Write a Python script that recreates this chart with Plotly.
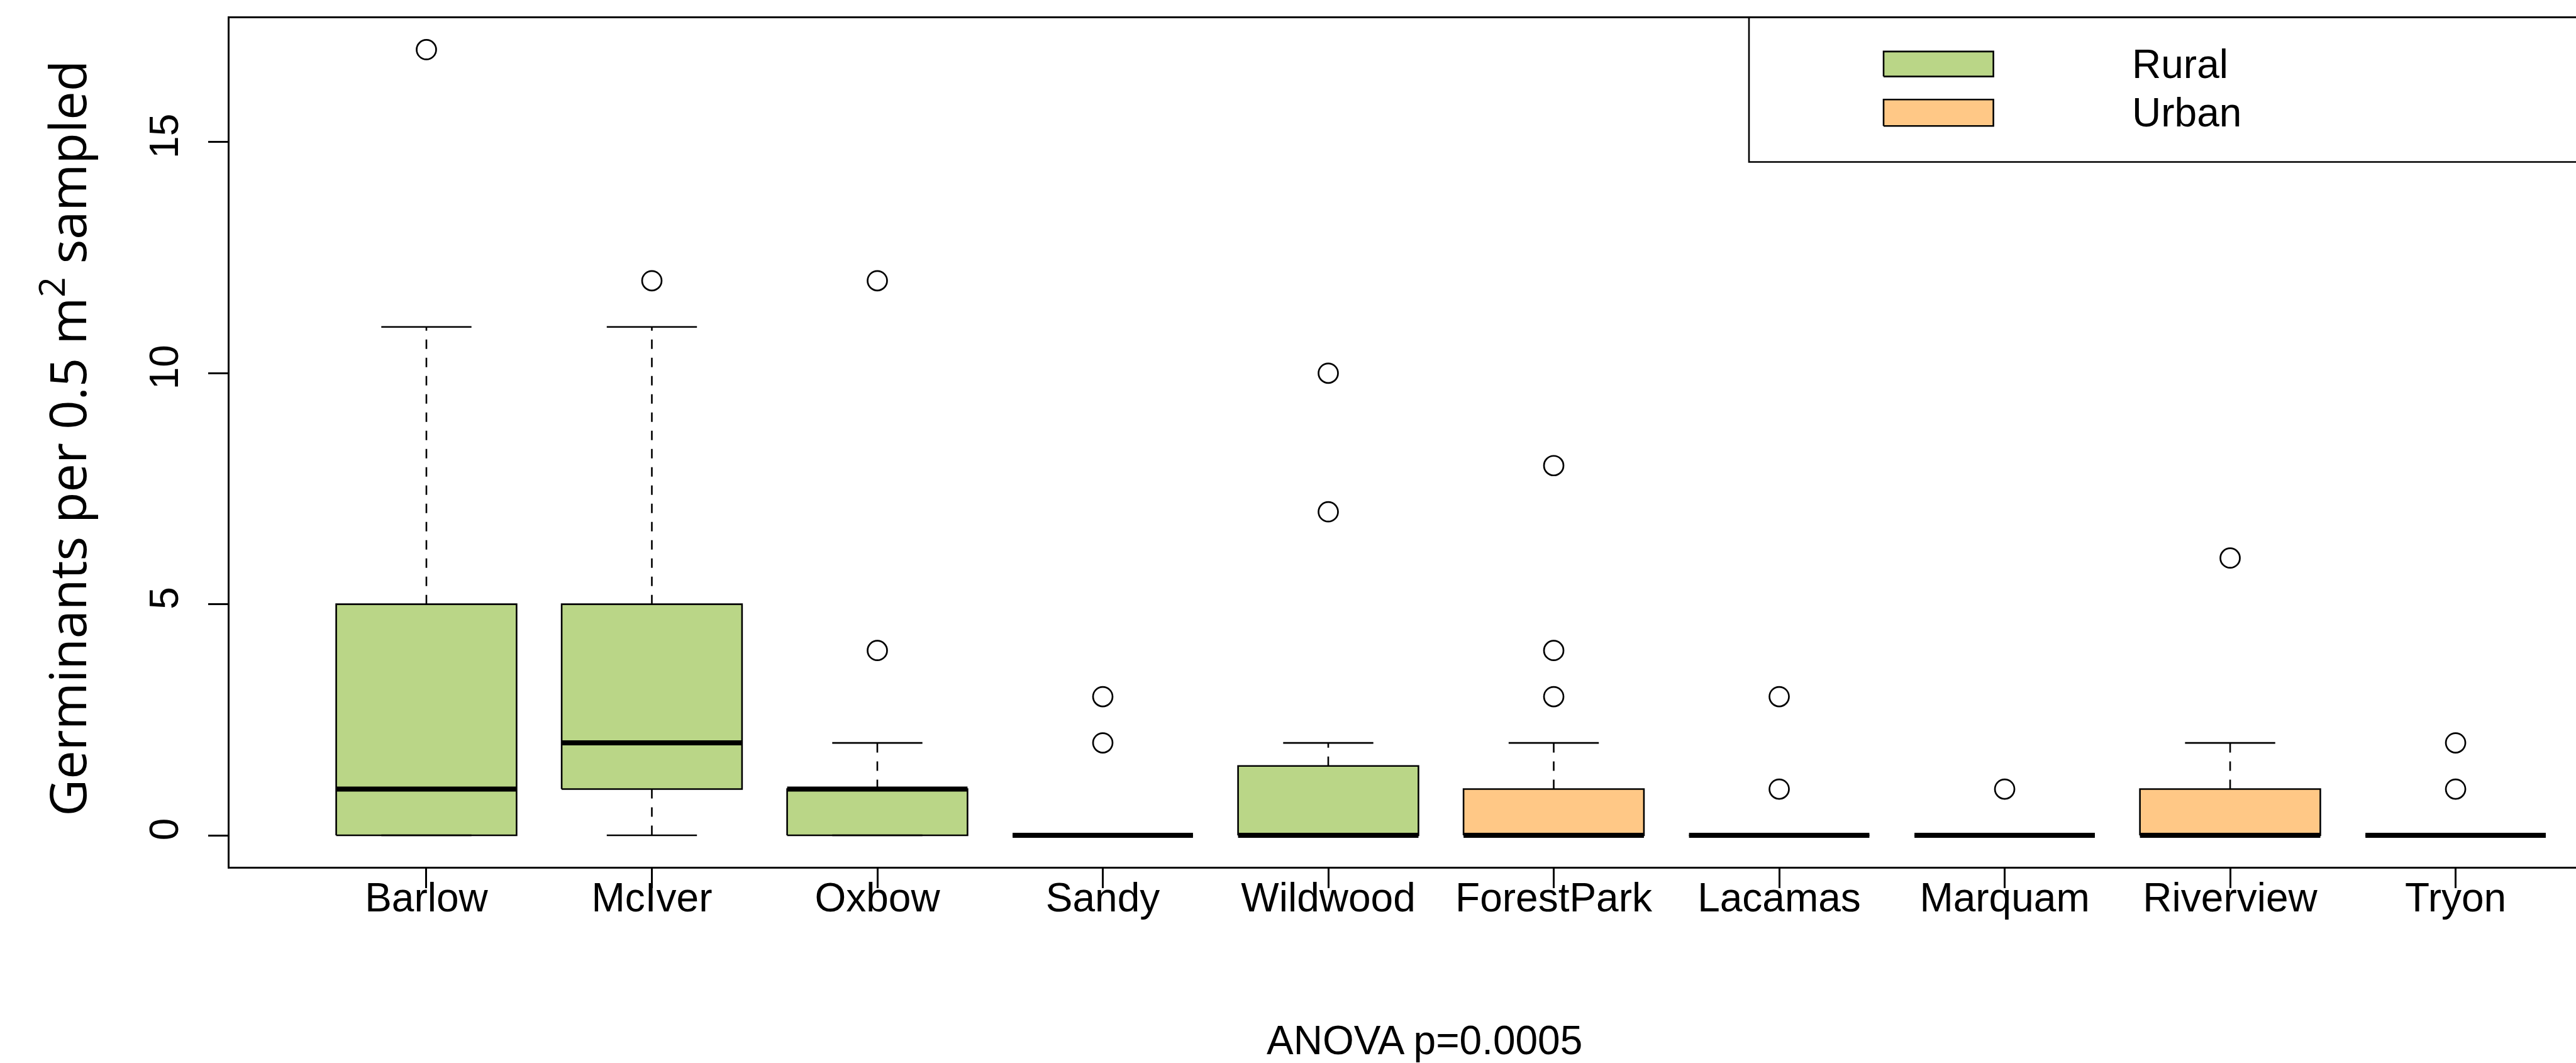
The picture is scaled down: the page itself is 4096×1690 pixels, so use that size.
import plotly.graph_objects as go

# Germinant counts per site: box statistics and outliers
sites = ["Barlow", "McIver", "Oxbow", "Sandy", "Wildwood",
         "ForestPark", "Lacamas", "Marquam", "Riverview", "Tryon"]
habitat = ["Rural", "Rural", "Rural", "Rural", "Rural",
           "Urban", "Rural", "Rural", "Urban", "Rural"]
q1 = [0, 1, 0, 0, 0, 0, 0, 0, 0, 0]
median = [1, 2, 1, 0, 0, 0, 0, 0, 0, 0]
q3 = [5, 5, 1, 0, 1.5, 1, 0, 0, 1, 0]
whisker_low = [0, 0, 0, 0, 0, 0, 0, 0, 0, 0]
whisker_high = [11, 11, 2, 0, 2, 2, 0, 0, 2, 0]
outliers = [[17], [12], [4, 12], [2, 3], [7, 10],
            [3, 4, 8], [1, 3], [1], [6], [1, 2]]

y_ticks = [0, 5, 10, 15]
legend_labels = ["Rural", "Urban"]
fill_colors = {"Rural": "#BAD687", "Urban": "#FFC886"}

BOX_HALF = 0.4
CAP_HALF = 0.2
TICK_FONT = dict(family="Liberation Sans, Arial, sans-serif", size=64, color="black")

fig = go.Figure()

for i, site in enumerate(sites):
    c = i + 1
    # box body
    fig.add_trace(go.Scatter(
        x=[c - BOX_HALF, c + BOX_HALF, c + BOX_HALF, c - BOX_HALF, c - BOX_HALF],
        y=[q1[i], q1[i], q3[i], q3[i], q1[i]],
        mode="lines", fill="toself", fillcolor=fill_colors[habitat[i]],
        line=dict(color="black", width=2.6), showlegend=False, hoverinfo="skip"))
    # dashed whiskers
    fig.add_trace(go.Scatter(
        x=[c, c, None, c, c],
        y=[q3[i], whisker_high[i], None, q1[i], whisker_low[i]],
        mode="lines", line=dict(color="black", width=2.6, dash="15px,14px"),
        showlegend=False, hoverinfo="skip"))
    # whisker caps
    fig.add_trace(go.Scatter(
        x=[c - CAP_HALF, c + CAP_HALF, None, c - CAP_HALF, c + CAP_HALF],
        y=[whisker_high[i], whisker_high[i], None, whisker_low[i], whisker_low[i]],
        mode="lines", line=dict(color="black", width=2.6),
        showlegend=False, hoverinfo="skip"))
    # median
    fig.add_trace(go.Scatter(
        x=[c - BOX_HALF, c + BOX_HALF], y=[median[i], median[i]],
        mode="lines", line=dict(color="black", width=8),
        showlegend=False, hoverinfo="skip"))
    # outliers
    fig.add_trace(go.Scatter(
        x=[c] * len(outliers[i]), y=outliers[i], mode="markers",
        marker=dict(symbol="circle-open", size=31, color="black",
                    line=dict(width=2.7, color="black")),
        showlegend=False, hoverinfo="skip"))

# legend frame (top-right corner of the plot)
legend_left, legend_bottom, legend_top = 6.866, 14.57, 17.68
fig.add_trace(go.Scatter(
    x=[legend_left, legend_left, 11.0], y=[legend_top, legend_bottom, legend_bottom],
    mode="lines", line=dict(color="black", width=2.6),
    showlegend=False, hoverinfo="skip"))

key_x0, key_x1, text_x = 7.463, 7.950, 8.56
key_rows = [(16.42, 16.96), (15.35, 15.92)]
for label, (y0, y1) in zip(legend_labels, key_rows):
    fig.add_trace(go.Scatter(
        x=[key_x0, key_x1, key_x1, key_x0, key_x0], y=[y0, y0, y1, y1, y0],
        mode="lines", fill="toself", fillcolor=fill_colors[label],
        line=dict(color="black", width=2.6), showlegend=False, hoverinfo="skip"))
    fig.add_annotation(x=text_x, y=(y0 + y1) / 2, xref="x", yref="y",
                       text=label, showarrow=False, xanchor="left", yanchor="middle",
                       font=TICK_FONT)

W, H = 4096, 1690
ML, MR, MT, MB = 365, 0, 29, 312
PW, PH = W - ML - MR, H - MT - MB

# axis titles
fig.add_annotation(x=(102 - ML) / PW, y=0.505, xref="paper", yref="paper",
                   text="Germinants per 0.5 m<sup>2</sup> sampled", textangle=-90,
                   showarrow=False, xanchor="center", yanchor="middle",
                   font=dict(family="Open Sans, sans-serif", size=81, color="black"))
fig.add_annotation(x=(2265 - ML) / PW, y=(H - MB - 1654) / PH,
                   xref="paper", yref="paper",
                   text="ANOVA p=0.0005", showarrow=False,
                   xanchor="center", yanchor="middle", font=TICK_FONT)

fig.update_xaxes(range=[0.127, 10.534], tickmode="array",
                 tickvals=list(range(1, len(sites) + 1)), ticktext=sites,
                 showline=True, mirror=True, linecolor="black", linewidth=2.6,
                 ticks="outside", ticklen=31, tickwidth=2.6, tickcolor="black",
                 showgrid=False, zeroline=False, tickfont=TICK_FONT,
                 ticklabelstandoff=-40)
fig.update_yaxes(range=[-0.68, 17.68], tickmode="array", tickvals=y_ticks,
                 showline=True, mirror=False, linecolor="black", linewidth=2.6,
                 ticks="outside", ticklen=31, tickwidth=2.6, tickcolor="black",
                 showgrid=False, zeroline=False, tickfont=TICK_FONT,
                 tickangle=-90, ticklabelstandoff=23)

fig.update_layout(width=W, height=H, margin=dict(l=ML, r=MR, t=MT, b=MB),
                  plot_bgcolor="white", paper_bgcolor="white", showlegend=False)

fig.write_html("out.html")
